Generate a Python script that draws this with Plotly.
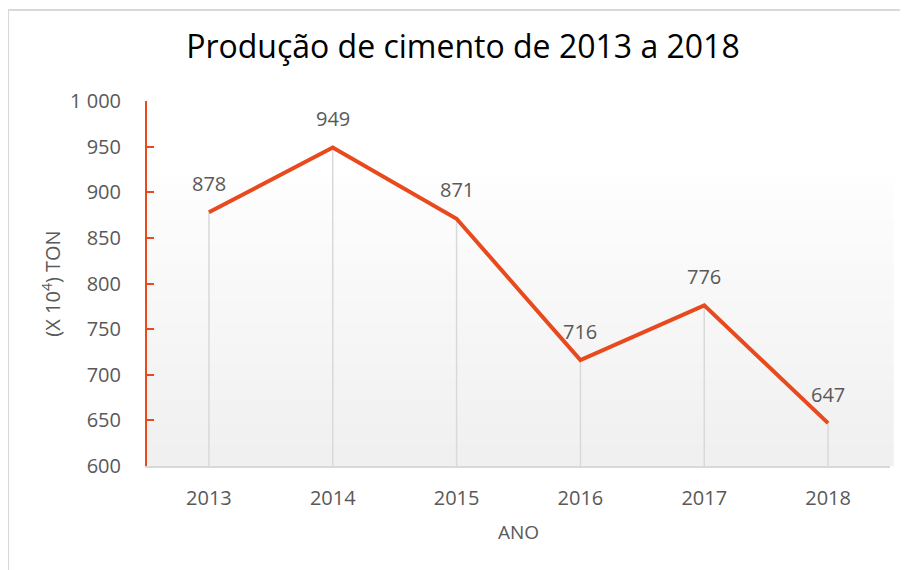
import plotly.graph_objects as go

# Produção de cimento (x 10^4 ton)
anos = ["2013", "2014", "2015", "2016", "2017", "2018"]
producao = [878, 949, 871, 716, 776, 647]
y_min = 600

line_color = "#E8491D"
text_gray = "#595959"

fig = go.Figure()

# gray drop lines from each point down to the axis
fig.add_trace(go.Scatter(
    x=anos, y=producao, mode="markers",
    marker=dict(size=0.1, color="rgba(0,0,0,0)"),
    error_y=dict(type="data", symmetric=False, array=[0] * len(producao),
                 arrayminus=[v - y_min for v in producao],
                 color="#D9D9D9", thickness=1.5, width=0),
    hoverinfo="skip", showlegend=False,
))

fig.add_trace(go.Scatter(
    x=anos, y=producao, mode="lines",
    line=dict(color=line_color, width=4),
    showlegend=False,
))

# value labels above each point (category index as x)
annotations = []
for i, v in enumerate(producao):
    annotations.append(dict(x=i, y=v, xref="x", yref="y", text=str(v),
                            showarrow=False, yshift=29,
                            font=dict(size=20, color=text_gray)))

# soft gradient behind the plot area
shapes = []
n = 40
top = 0.79
for i in range(n):
    y0 = top * i / n
    y1 = top * (i + 1) / n
    g = int(240 + (254 - 240) * i / (n - 1))
    shapes.append(dict(type="rect", xref="paper", yref="paper",
                       x0=0, x1=1.005, y0=y0, y1=y1 + 0.002,
                       fillcolor=f"rgb({g},{g},{g})", line=dict(width=0),
                       layer="below"))
# chart border (left and top edges)
shapes.append(dict(type="line", xref="paper", yref="paper",
                   x0=-0.1870, x1=-0.1870, y0=-0.5, y1=1.2493,
                   line=dict(color="#D9D9D9", width=2), layer="below"))
shapes.append(dict(type="line", xref="paper", yref="paper",
                   x0=-0.1870, x1=1.2, y0=1.2493, y1=1.2493,
                   line=dict(color="#D9D9D9", width=2), layer="below"))

fig.update_layout(
    width=908, height=570,
    margin=dict(l=139, r=26, t=93, b=112),
    paper_bgcolor="white", plot_bgcolor="rgba(0,0,0,0)",
    font=dict(family="Open Sans", color=text_gray),
    separators=", ",
    title=dict(text="Produção de cimento de 2013 a 2018",
               font=dict(size=32, color="black"),
               x=0.501, xanchor="center", y=0.9316, yanchor="middle"),
    shapes=shapes,
    annotations=annotations,
    xaxis=dict(
        type="category", range=[-0.5, 5.5], automargin=False,
        showgrid=False, zeroline=False,
        showline=True, linecolor="#D9D9D9", linewidth=2,
        ticks="", tickfont=dict(size=20, color=text_gray),
        ticklabelstandoff=13,
        title=dict(text="ANO", font=dict(size=19, color=text_gray), standoff=16),
    ),
    yaxis=dict(
        range=[600, 1000], dtick=50, tickformat=",d", automargin=False,
        showgrid=False, zeroline=False,
        showline=True, linecolor=line_color, linewidth=2,
        ticks="inside", ticklen=7, tickcolor=line_color, tickwidth=2,
        tickfont=dict(size=20, color=text_gray),
        ticklabelstandoff=20,
        title=dict(text="(X 10<sup>4</sup>) TON", font=dict(size=20, color=text_gray),
                   standoff=4),
    ),
)

fig.write_html("out.html")
